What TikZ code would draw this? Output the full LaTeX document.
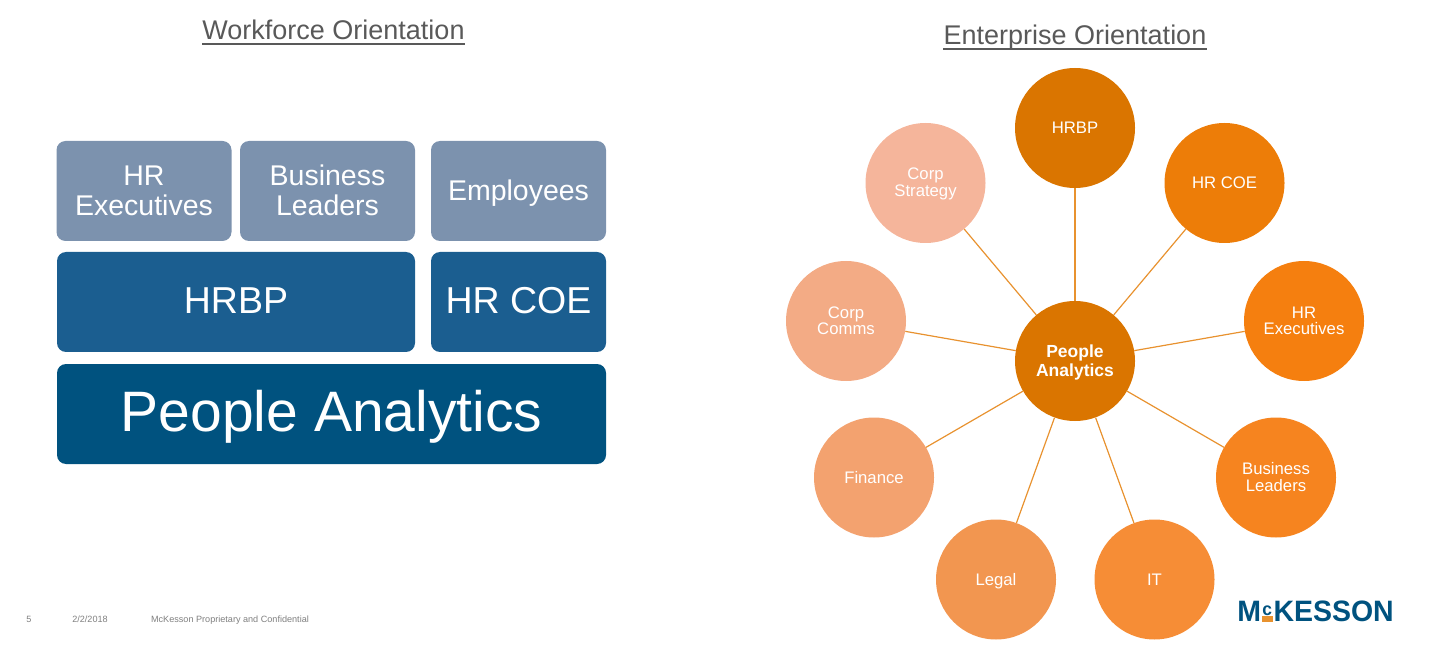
\documentclass[tikz,border=0pt]{standalone}
\usepackage{fontspec}
\setmainfont{Liberation Sans}
\usepackage{tikz}
\usetikzlibrary{shapes}
\definecolor{greyblue}{HTML}{7C92AE}
\definecolor{midblue}{HTML}{1B5E90}
\definecolor{darkblue}{HTML}{00527F}
\definecolor{linkorange}{HTML}{E8922F}
\definecolor{footgrey}{HTML}{7F7F7F}
\definecolor{titlegrey}{HTML}{595959}
\definecolor{c0}{HTML}{DA7500}
\definecolor{c1}{HTML}{ED7D08}
\definecolor{c2}{HTML}{F57F0F}
\definecolor{c3}{HTML}{F6841F}
\definecolor{c4}{HTML}{F68D36}
\definecolor{c5}{HTML}{F29650}
\definecolor{c6}{HTML}{F3A26F}
\definecolor{c7}{HTML}{F3AB85}
\definecolor{c8}{HTML}{F5B59B}
\newcommand{\fsize}[1]{\fontsize{#1}{#1}\selectfont}

\begin{document}
\begin{tikzpicture}[x=1pt,y=-1pt]
      \tikzstyle{block}=[rectangle,rounded corners=9pt,inner sep=0pt,text=white,align=center]
      \tikzstyle{topblock}=[block,fill=greyblue,minimum width=175pt,minimum height=100pt,font=\fontsize{28.5}{29.5}\selectfont,text height=50pt,text depth=1.6pt]
      \tikzstyle{midblock}=[block,fill=midblue,minimum height=100pt,font=\fsize{37.5},text height=27pt,text depth=4pt]
      \tikzstyle{bubble}=[circle,minimum size=120pt,inner sep=0pt,text=white,align=center,font=\fontsize{16.7}{17}\selectfont,text height=29pt,text depth=1pt]
      \tikzstyle{oneline}=[text height=12pt,text depth=0pt]
      \tikzstyle{title}=[text=titlegrey,font=\fsize{27},inner sep=0pt,text depth=4pt,anchor=base]
      \tikzstyle{foot}=[text=footgrey,font=\fsize{9.1},inner sep=0pt,anchor=base]
      \useasboundingbox (0,0) rectangle (1430,652);
      \node[title] (wftitle) at (333.5,40) {Workforce Orientation};
      \node[title] (entitle) at (1075,45) {Enterprise Orientation};
      \draw[titlegrey,line width=1.5pt] (wftitle.south west) -- (wftitle.south east);
      \draw[titlegrey,line width=1.5pt] (entitle.south west) -- (entitle.south east);
      % left stack
      \node[topblock] (hrexec) at (144,191) {HR\\Executives};
      \node[topblock] (bizlead) at (327.5,191) {Business\\Leaders};
      \node[topblock,text height=20.5pt,text depth=1pt] (employees) at (518.5,191) {Employees};
      \node[midblock,minimum width=358pt] (hrbp) at (236,302) {HRBP};
      \node[midblock,minimum width=175pt] (hrcoe) at (518.5,302) {HR COE};
      \node[block,fill=darkblue,minimum width=549pt,minimum height=100pt,font=\fsize{57},text height=41pt,text depth=6pt] (people) at (331.5,414) {People Analytics};
      % right wheel
      \node[bubble,fill=c0,font=\bfseries\fontsize{17.5}{18}\selectfont,text height=31pt] (hub) at (1075,361) {People\\Analytics};
      \node[bubble,oneline,fill=c0] (whrbp) at (1075,128) {HRBP};
      \node[bubble,oneline,fill=c1] (wcoe) at (1224.5,183) {HR COE};
      \node[bubble,fill=c2] (wexec) at (1304,321) {HR\\Executives};
      \node[bubble,fill=c3] (wbiz) at (1276,477.5) {Business\\Leaders};
      \node[bubble,oneline,fill=c4] (wit) at (1154.5,579.5) {IT};
      \node[bubble,oneline,fill=c5] (wlegal) at (996,579.5) {Legal};
      \node[bubble,oneline,fill=c6] (wfin) at (874,477.5) {Finance};
      \node[bubble,fill=c7] (wcomms) at (846,321) {Corp\\Comms};
      \node[bubble,fill=c8] (wstrat) at (925.5,183) {Corp\\Strategy};
      \foreach \w in {whrbp,wcoe,wexec,wbiz,wit,wlegal,wfin,wcomms,wstrat}
        \draw[linkorange,line width=1.2pt] (hub) -- (\w);
      % footer and logo
      \node[foot] (pageno) at (29,622) {5};
      \node[foot] (date) at (90,622) {2/2/2018};
      \node[foot] (confid) at (230,622) {McKesson Proprietary and Confidential};
      \node[text=darkblue,inner sep=0pt,font=\bfseries\fsize{29.5},anchor=base] (logo) at (1315.5,621.5) {\scalebox{0.965}[1]{M\kern1.5pt\raisebox{6pt}{\fsize{18}c}\kern1.5ptKESSON}};
      \fill[linkorange] (1262,616) rectangle (1273,622);
\end{tikzpicture}
\end{document}
